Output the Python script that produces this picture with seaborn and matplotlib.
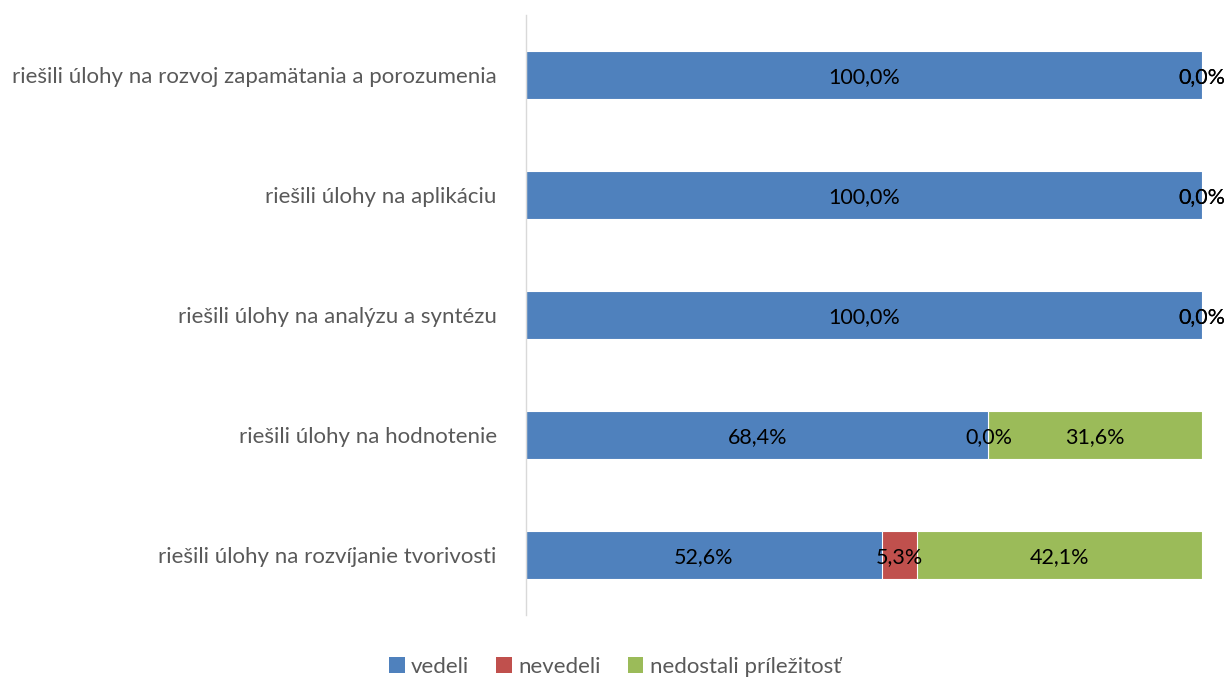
import pandas as pd
import seaborn as sns
import matplotlib.pyplot as plt
from matplotlib.patches import Patch

categories = [
    "riešili úlohy na rozvoj zapamätania a porozumenia",
    "riešili úlohy na aplikáciu",
    "riešili úlohy na analýzu a syntézu",
    "riešili úlohy na hodnotenie",
    "riešili úlohy na rozvíjanie tvorivosti",
]
vedeli = [100.0, 100.0, 100.0, 68.4, 52.6]
nevedeli = [0.0, 0.0, 0.0, 0.0, 5.3]
nedostali = [0.0, 0.0, 0.0, 31.6, 42.1]

series_names = ["vedeli", "nevedeli", "nedostali príležitosť"]
colors = ["#4F81BD", "#C0504D", "#9BBB59"]

sns.set_style("white")
plt.rcParams["font.family"] = ["Lato", "DejaVu Sans"]

df = pd.DataFrame({"kategoria": categories, "vedeli": vedeli,
                   "nevedeli": nevedeli, "nedostali": nedostali})
df["c1"] = df["vedeli"] / 100
df["c2"] = (df["vedeli"] + df["nevedeli"]) / 100
df["c3"] = (df["vedeli"] + df["nevedeli"] + df["nedostali"]) / 100

fig = plt.figure(figsize=(12.27, 6.79), dpi=100)
ax = fig.add_axes([526 / 1227, 1 - 615 / 679, (1202 - 526) / 1227, 600 / 679])

# stacked bars: draw cumulative totals, largest first
for col, color in zip(["c3", "c2", "c1"], colors[::-1]):
    sns.barplot(data=df, y="kategoria", x=col, order=categories, color=color,
                width=0.4, edgecolor="white", linewidth=0.8, ax=ax,
                saturation=1)

# data labels at segment centers
for i in range(len(categories)):
    starts = [0, df["c1"][i], df["c2"][i]]
    ends = [df["c1"][i], df["c2"][i], df["c3"][i]]
    vals = [vedeli[i], nevedeli[i], nedostali[i]]
    for s, e, v in zip(starts, ends, vals):
        ax.text((s + e) / 2, i + 0.02, f"{v:.1f}%".replace(".", ","),
                ha="center", va="center", fontsize=15.5, color="black",
                clip_on=False)

ax.set_xlim(0, 1)
ax.set_ylim(4.5, -0.5)
ax.set_xlabel("")
ax.set_ylabel("")
ax.set_xticks([])
for side in ["top", "right", "bottom"]:
    ax.spines[side].set_visible(False)
ax.spines["left"].set_color("#D9D9D9")
ax.spines["left"].set_linewidth(1.0)
ax.tick_params(axis="y", length=0, pad=21, labelsize=16, labelcolor="#595959")

handles = [Patch(facecolor=c, edgecolor="none") for c in colors]
leg = fig.legend(handles, series_names, loc="center",
                 bbox_to_anchor=(615 / 1227, 1 - 667 / 679), ncol=3,
                 frameon=False, fontsize=16, handlelength=0.7,
                 handleheight=0.7, handletextpad=0.3, columnspacing=1.2)
for t in leg.get_texts():
    t.set_color("#595959")

fig.savefig("out.png", dpi=100)
